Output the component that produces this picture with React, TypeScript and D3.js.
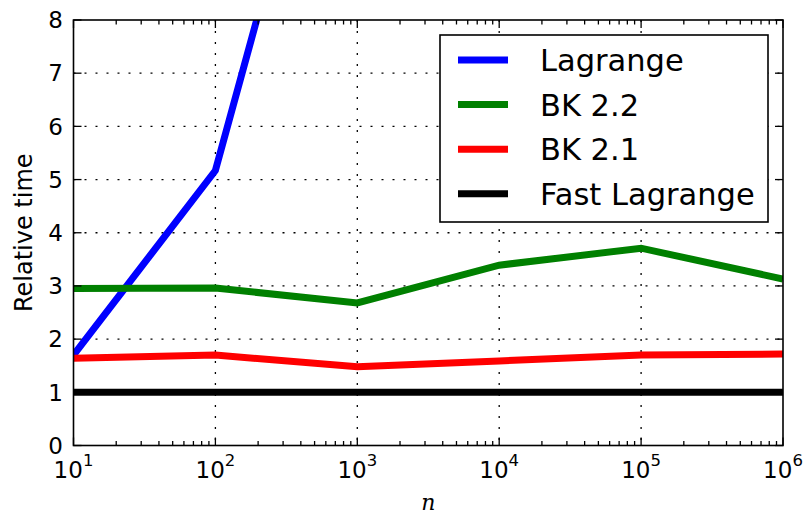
import React from "react";
import * as d3 from "d3";

const nValues = [1e1, 1e2, 1e3, 1e4, 1e5, 1e6];
const lagrangeN = [1e1, 1e2, 1e3];
const lagrange = [1.7, 5.17, 14.9];
const bk22 = [2.95, 2.96, 2.68, 3.39, 3.71, 3.13];
const bk21 = [1.64, 1.7, 1.48, 1.59, 1.7, 1.72];
const fastLagrange = [1.0, 1.0, 1.0, 1.0, 1.0, 1.0];
const yTicks = [0, 1, 2, 3, 4, 5, 6, 7, 8];
const xExponents = [1, 2, 3, 4, 5, 6];

const series = [
  { name: "Lagrange", color: "#0000ff", xs: lagrangeN, ys: lagrange },
  { name: "BK 2.2", color: "#008000", xs: nValues, ys: bk22 },
  { name: "BK 2.1", color: "#ff0000", xs: nValues, ys: bk21 },
  { name: "Fast Lagrange", color: "#000000", xs: nValues, ys: fastLagrange },
];

const W = 805,
  H = 516;
const margin = { top: 20, right: 22, bottom: 70.5, left: 73.5 };
const w = W - margin.left - margin.right,
  h = H - margin.top - margin.bottom;

const font = "DejaVu Sans, sans-serif";

export default function App() {
  const x = d3.scaleLog().domain([1e1, 1e6]).range([0, w]);
  const y = d3.scaleLinear().domain([0, 8]).range([h, 0]);

  const line = d3
    .line<[number, number]>()
    .x((d) => x(d[0]))
    .y((d) => y(d[1]));

  // minor ticks 2..9 in each decade
  const minor: number[] = [];
  for (let e = 1; e < 6; e++) {
    for (let k = 2; k <= 9; k++) minor.push(k * Math.pow(10, e));
  }

  const legendX = 440 - margin.left,
    legendY = 35 - margin.top;

  return (
    <svg
      width={W}
      height={H}
      style={{ position: "absolute", left: 0, top: 0, background: "#fff" }}
    >
      <defs>
        <clipPath id="plotClip">
          <rect x={0} y={0} width={w} height={h} />
        </clipPath>
      </defs>
      <g transform={`translate(${margin.left},${margin.top})`}>
        {/* grid */}
        {yTicks.slice(1, -1).map((t) => (
          <line
            key={"gy" + t}
            x1={0}
            x2={w}
            y1={y(t)}
            y2={y(t)}
            stroke="#000"
            strokeWidth={1.3}
            strokeDasharray="2,9"
          />
        ))}
        {xExponents.slice(1, -1).map((e) => (
          <line
            key={"gx" + e}
            x1={x(Math.pow(10, e))}
            x2={x(Math.pow(10, e))}
            y1={0}
            y2={h}
            stroke="#000"
            strokeWidth={1.3}
            strokeDasharray="2,9"
          />
        ))}

        {/* series */}
        <g clipPath="url(#plotClip)">
          {series.map((s) => (
            <path
              key={s.name}
              d={line(s.xs.map((v, i) => [v, s.ys[i]]) as [number, number][]) || ""}
              fill="none"
              stroke={s.color}
              strokeWidth={7}
              strokeLinejoin="miter"
            />
          ))}
        </g>

        {/* ticks */}
        {yTicks.map((t) => (
          <g key={"ty" + t}>
            <line x1={0} x2={8} y1={y(t)} y2={y(t)} stroke="#000" strokeWidth={1.3} />
            <line x1={w} x2={w - 8} y1={y(t)} y2={y(t)} stroke="#000" strokeWidth={1.3} />
            <text
              x={-10.5}
              y={y(t)}
              dy="0.36em"
              textAnchor="end"
              fontFamily={font}
              fontSize={23}
            >
              {t}
            </text>
          </g>
        ))}
        {xExponents.map((e) => (
          <g key={"tx" + e}>
            <line x1={x(Math.pow(10, e))} x2={x(Math.pow(10, e))} y1={h} y2={h - 8} stroke="#000" strokeWidth={1.3} />
            <line x1={x(Math.pow(10, e))} x2={x(Math.pow(10, e))} y1={0} y2={8} stroke="#000" strokeWidth={1.3} />
            <text
              x={x(Math.pow(10, e))}
              y={h + 32.5}
              textAnchor="middle"
              fontFamily={font}
              fontSize={23}
            >
              10
              <tspan fontSize={16.5} dy={-12}>
                {e}
              </tspan>
            </text>
          </g>
        ))}
        {minor.map((m) => (
          <g key={"m" + m}>
            <line x1={x(m)} x2={x(m)} y1={h} y2={h - 4.5} stroke="#000" strokeWidth={1.3} />
            <line x1={x(m)} x2={x(m)} y1={0} y2={4.5} stroke="#000" strokeWidth={1.3} />
          </g>
        ))}

        {/* frame */}
        <rect x={0} y={0} width={w} height={h} fill="none" stroke="#000" strokeWidth={1.6} />

        {/* axis labels */}
        <text
          transform={`translate(${32 - margin.left},${h / 2}) rotate(-90)`}
          textAnchor="middle"
          fontFamily={font}
          fontSize={24}
        >
          Relative time
        </text>
        <text
          x={w / 2 + 0}
          y={510 - margin.top}
          textAnchor="middle"
          fontFamily="DejaVu Serif, serif"
          fontStyle="italic"
          fontSize={22}
        >
          n
        </text>

        {/* legend */}
        <g transform={`translate(${legendX},${legendY})`}>
          <rect x={0} y={0} width={328} height={187} fill="#fff" stroke="#000" strokeWidth={1.6} />
          {series.map((s, i) => (
            <g key={"lg" + s.name} transform={`translate(0,${25 + i * 44.6})`}>
              <line x1={18} x2={68} y1={0} y2={0} stroke={s.color} strokeWidth={7} />
              <text x={100} y={0} dy="0.36em" fontFamily={font} fontSize={30.5}>
                {s.name}
              </text>
            </g>
          ))}
        </g>
      </g>
    </svg>
  );
}
